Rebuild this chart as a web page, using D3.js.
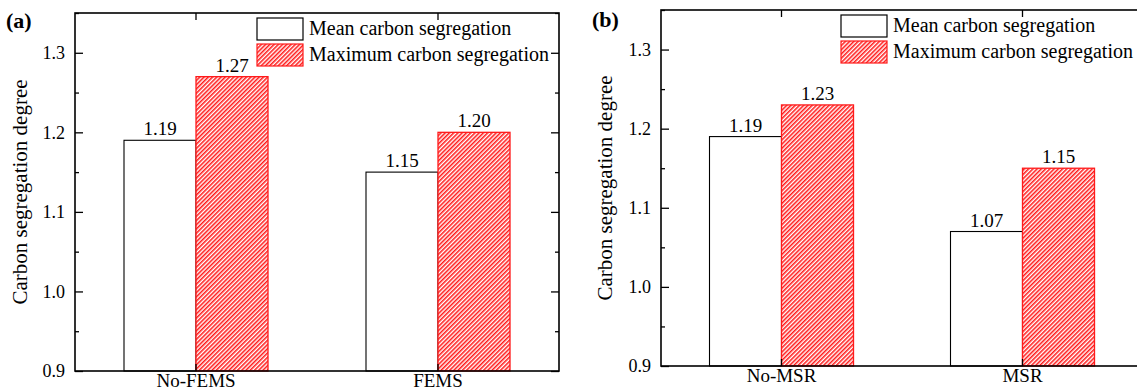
<!DOCTYPE html>
<html>
<head>
<meta charset="utf-8">
<script src="https://cdn.jsdelivr.net/npm/d3@7"></script>
<style>
  body { margin: 0; background: #fff; }
  svg { display: block; font-family: "Liberation Serif", "Times New Roman", serif; }
  .tick text { font-family: "Liberation Serif", "Times New Roman", serif; fill: #000; }
</style>
</head>
<body>
<div id="chart"></div>
<script>
  // data
  var seriesKeys = ['mean', 'max'];
  var seriesNames = ['Mean carbon segregation', 'Maximum carbon segregation'];
  var categoriesA = ['No-FEMS', 'FEMS'];
  var meanA = [1.19, 1.15];
  var maxA = [1.27, 1.20];
  var categoriesB = ['No-MSR', 'MSR'];
  var meanB = [1.19, 1.07];
  var maxB = [1.23, 1.15];
  var yTicks = [0.9, 1.0, 1.1, 1.2, 1.3];
  var yMinorTicks = [0.95, 1.05, 1.15, 1.25, 1.35];

  var W = 1137, H = 391;
  var svg = d3.select('#chart').append('svg')
    .attr('width', W).attr('height', H);

  // hatch for the max bars
  var defs = svg.append('defs');
  var pat = defs.append('pattern')
    .attr('id', 'hatch')
    .attr('patternUnits', 'userSpaceOnUse')
    .attr('width', 3).attr('height', 3)
    .attr('patternTransform', 'rotate(45)');
  pat.append('rect').attr('width', 3).attr('height', 3).attr('fill', '#fff');
  pat.append('line')
    .attr('x1', 0.8).attr('y1', 0).attr('x2', 0.8).attr('y2', 3)
    .attr('stroke', '#ff0000').attr('stroke-width', 1.4);

  function drawPanel(cfg) {
    var g = svg.append('g');
    var left = cfg.left, right = cfg.right, top = cfg.top, bottom = cfg.bottom;

    var x = d3.scaleBand().domain(cfg.categories).range([left, right]).padding(0);
    var y = d3.scaleLinear().domain([0.9, 1.35]).range([bottom, top]);
    var barW = 72;
    var inner = d3.scaleBand().domain(seriesKeys).range([-barW, barW]).padding(0);

    var rows = cfg.categories.map(function (c, i) {
      return { cat: c, mean: cfg.mean[i], max: cfg.max[i] };
    });

    // bars
    rows.forEach(function (d) {
      var cx = x(d.cat) + x.bandwidth() / 2;
      seriesKeys.forEach(function (k) {
        var bx = cx + inner(k);
        g.append('rect')
          .attr('x', bx)
          .attr('y', y(d[k]))
          .attr('width', inner.bandwidth())
          .attr('height', y(0.9) - y(d[k]))
          .attr('fill', k === 'max' ? 'url(#hatch)' : '#fff')
          .attr('stroke', k === 'max' ? '#ff1a1a' : '#000')
          .attr('stroke-width', k === 'max' ? 1.3 : 1.1);
        g.append('text')
          .attr('x', bx + inner.bandwidth() / 2)
          .attr('y', y(d[k]) - 5)
          .attr('text-anchor', 'middle')
          .attr('font-size', 19)
          .text(d3.format('.2f')(d[k]));
      });
    });

    // axes, ticks all pointing inside
    var yAxis = g.append('g').attr('transform', 'translate(' + left + ',0)')
      .call(d3.axisLeft(y).tickValues(yTicks).tickSize(-8).tickPadding(10).tickFormat(d3.format('.1f')));
    yAxis.selectAll('text').attr('font-size', 18);
    g.append('g').attr('transform', 'translate(' + left + ',0)')
      .call(d3.axisLeft(y).tickValues(yMinorTicks).tickSize(-4).tickFormat(''));
    if (cfg.rightTicks) {
      g.append('g').attr('transform', 'translate(' + right + ',0)')
        .call(d3.axisRight(y).tickValues(yTicks).tickSize(-8).tickFormat(''));
      g.append('g').attr('transform', 'translate(' + right + ',0)')
        .call(d3.axisRight(y).tickValues(yMinorTicks).tickSize(-4).tickFormat(''));
    }

    var xAxis = g.append('g').attr('transform', 'translate(0,' + bottom + ')')
      .call(d3.axisBottom(x).tickSize(-7).tickPadding(2));
    xAxis.selectAll('text').attr('font-size', 19);
    g.append('g').attr('transform', 'translate(0,' + top + ')')
      .call(d3.axisTop(x).tickSize(-7).tickFormat(''));

    g.selectAll('.domain').remove();
    g.selectAll('.tick line').attr('stroke', '#000').attr('stroke-width', 1.3);

    g.append('rect')
      .attr('x', left).attr('y', top)
      .attr('width', right - left).attr('height', bottom - top)
      .attr('fill', 'none').attr('stroke', '#000').attr('stroke-width', 1.6);

    // y title
    g.append('text')
      .attr('transform', 'translate(' + cfg.titleX + ',' + (top + bottom) / 2 + ') rotate(-90)')
      .attr('text-anchor', 'middle')
      .attr('font-size', 21)
      .text('Carbon segregation degree');

    // panel letter
    g.append('text')
      .attr('x', cfg.letterX).attr('y', cfg.letterY)
      .attr('font-size', 22).attr('font-weight', 'bold')
      .text(cfg.letter);

    // legend
    var lg = g.append('g').attr('transform', 'translate(' + cfg.legendX + ',' + cfg.legendY + ')');
    seriesKeys.forEach(function (k, i) {
      lg.append('rect')
        .attr('x', 0).attr('y', i * 26)
        .attr('width', 46).attr('height', 22)
        .attr('fill', k === 'max' ? 'url(#hatch)' : '#fff')
        .attr('stroke', k === 'max' ? '#ff1a1a' : '#000')
        .attr('stroke-width', 1.2);
      lg.append('text')
        .attr('x', 52).attr('y', i * 26 + 17)
        .attr('font-size', 20)
        .text(seriesNames[i]);
    });
  }

  drawPanel({
    categories: categoriesA, mean: meanA, max: maxA,
    left: 75, right: 559, top: 13, bottom: 371, rightTicks: true,
    titleX: 27, letter: '(a)', letterX: 6, letterY: 28,
    legendX: 257, legendY: 18
  });

  drawPanel({
    categories: categoriesB, mean: meanB, max: maxB,
    left: 661, right: 1143, top: 10, bottom: 366, rightTicks: false,
    titleX: 612, letter: '(b)', letterX: 592, letterY: 27,
    legendX: 841, legendY: 15
  });
</script>
</body>
</html>
